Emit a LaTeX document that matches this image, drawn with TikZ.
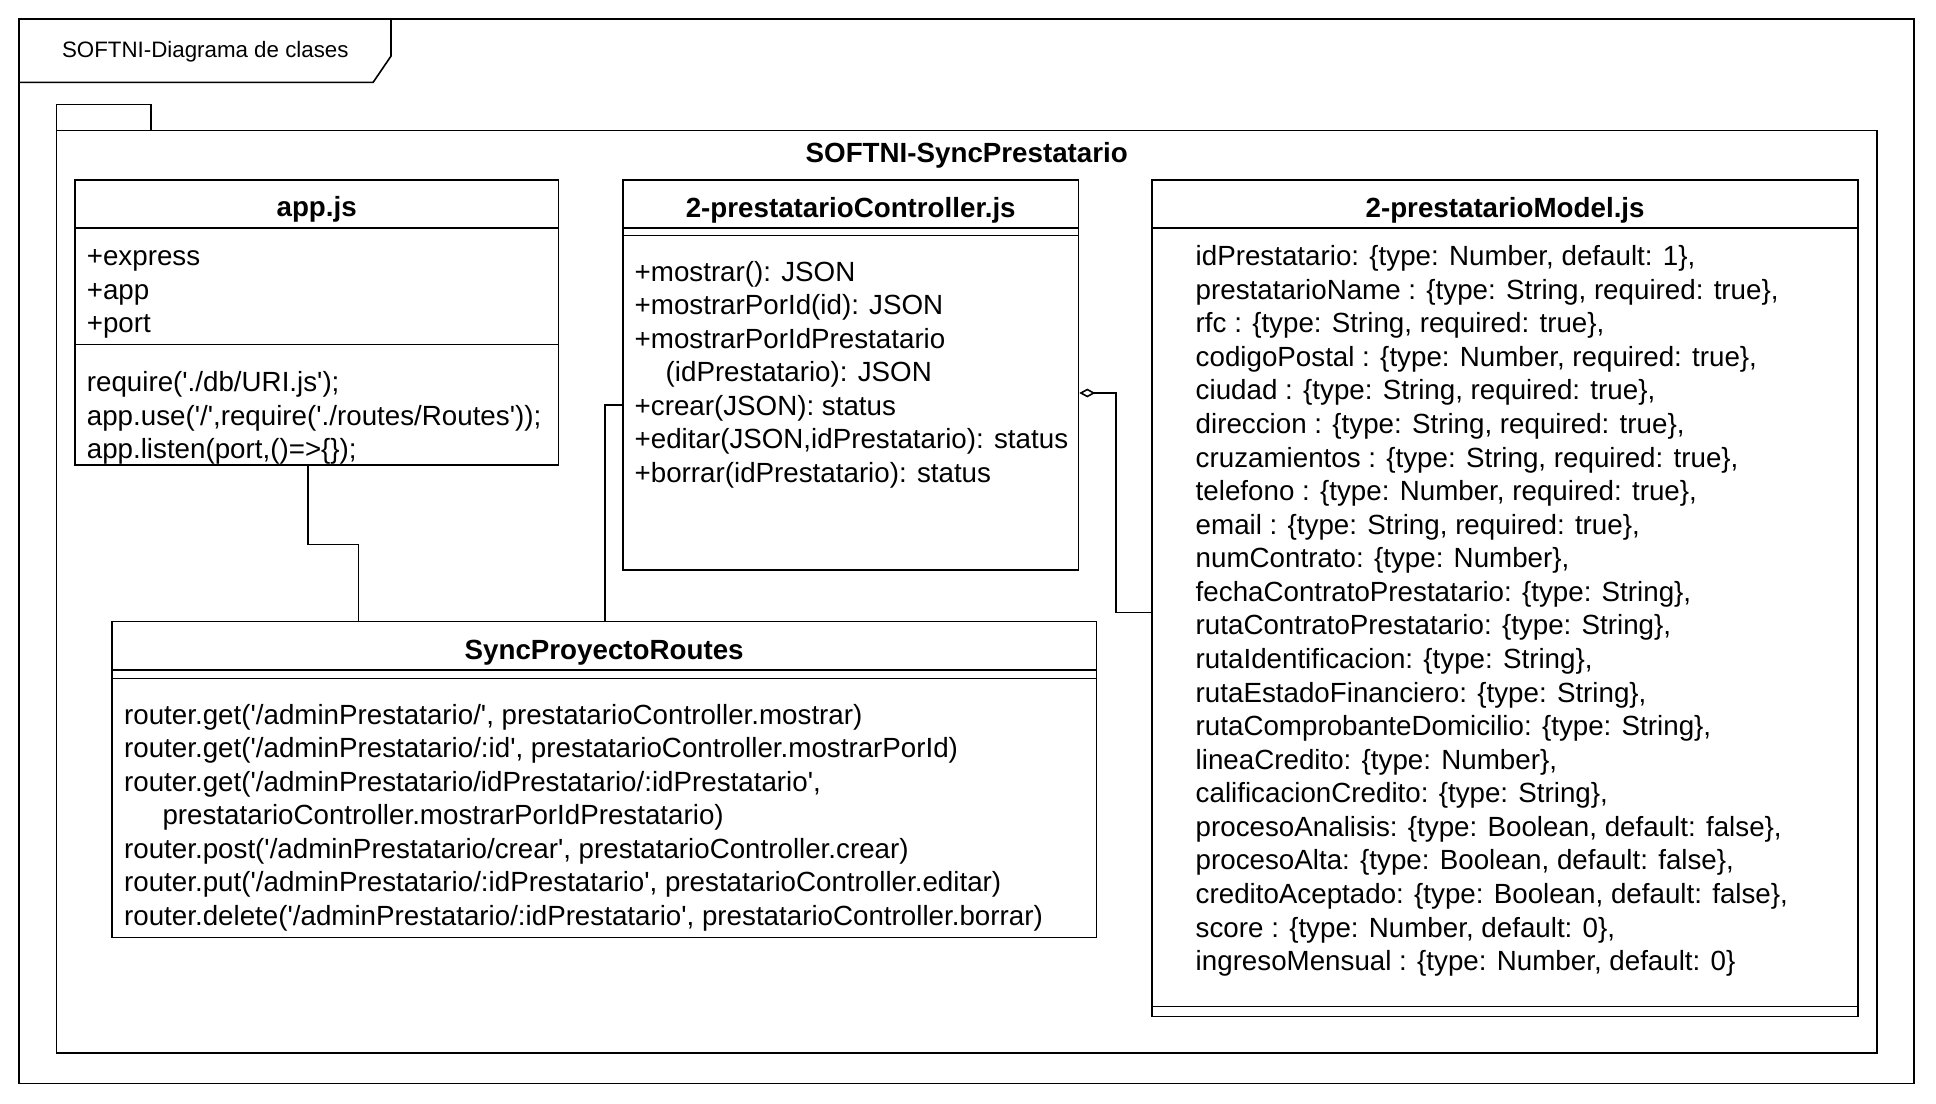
\documentclass[tikz,border=0pt]{standalone}
\usepackage{fontspec}
\newfontfamily\cfont{Liberation Sans}
\usetikzlibrary{arrows.meta,fit}
\begin{document}
\begin{tikzpicture}[x=0.61735pt,y=-0.61735pt,line width=0.8pt,
  box/.style={draw,inner sep=0pt,fit={#1}},
  txt/.style={anchor=base west,inner sep=0pt,font=\cfont\fontsize{13.87}{16.6}\selectfont},
  ttl/.style={anchor=base,inner sep=0pt,font=\cfont\bfseries\fontsize{13.87}{16.6}\selectfont},
  ftl/.style={anchor=base west,inner sep=0pt,font=\cfont\fontsize{11.16}{13.4}\selectfont},
  aggr/.style={{Diamond[open,length=8pt,width=4.4pt,line width=0.8pt]}-}]
\fill[white] (0,0) rectangle (1568,894);
\useasboundingbox (0,0) rectangle (1568,894);

% outer frame
\draw (15.5,15.4) rectangle (1550.2,877.4);
\draw (15.5,66.7) -- (302.2,66.7) -- (316.7,45.4) -- (316.7,15.4);
\node[ftl] (frametitle) at (49.6,46.4) {SOFTNI-Diagrama de clases};

% package
\draw (45.9,105.8) -- (45.9,84.8) -- (122.4,84.8) -- (122.4,105.8);
\draw (45.9,105.8) rectangle (1520,853);
\node[ttl] (pkgtitle) at (783,131.5) {SOFTNI-SyncPrestatario};

% app.js
\node[box={(60.8,145.8) (452.3,376.6)}] (app) {};
\draw (app.west |- 0,184.9) -- (app.east |- 0,184.9);
\draw (app.west |- 0,278.9) -- (app.east |- 0,278.9);
\node[ttl] (apptitle) at (256.5,175.5) {app.js};
\node[txt] (a1) at (69.7,215.2) {+express};
\node[txt] (a2) at (69.7,242.4) {+app};
\node[txt] (a3) at (69.7,269.6) {+port};
\node[txt] (a4) at (69.7,317.2) {require('./db/URI.js');};
\node[txt] (a5) at (69.7,344.4) {app.use('/',require('./routes/Routes'));};
\node[txt] (a6) at (69.7,371.6) {app.listen(port,()=>\{\});};

% controller
\node[box={(504.5,145.8) (873.5,461.6)}] (ctrl) {};
\draw (ctrl.west |- 0,184.9) -- (ctrl.east |- 0,184.9);
\draw (ctrl.west |- 0,190.9) -- (ctrl.east |- 0,190.9);
\node[ttl] (ctrltitle) at (689,176) {2-prestatarioController.js};
\node[txt] (c1) at (513.4,227.6) {+mostrar(): JSON};
\node[txt] (c2) at (513.4,254.8) {+mostrarPorId(id): JSON};
\node[txt] (c3) at (513.4,282.0) {+mostrarPorIdPrestatario};
\node[txt] (c4) at (538.5,309.2) {(idPrestatario): JSON};
\node[txt] (c5) at (513.4,336.4) {+crear(JSON): status};
\node[txt] (c6) at (513.4,363.6) {+editar(JSON,idPrestatario): status};
\node[txt] (c7) at (513.4,390.8) {+borrar(idPrestatario): status};

% model
\node[box={(933,145.8) (1505,823.4)}] (model) {};
\draw (model.west |- 0,184.9) -- (model.east |- 0,184.9);
\draw (model.west |- 0,815.3) -- (model.east |- 0,815.3);
\node[ttl] (modeltitle) at (1219,176) {2-prestatarioModel.js};
\foreach \t [count=\k from 0] in {
  {idPrestatario: \{type: Number, default: 1\},},
  {prestatarioName : \{type: String, required: true\},},
  {rfc : \{type: String, required: true\},},
  {codigoPostal : \{type: Number, required: true\},},
  {ciudad : \{type: String, required: true\},},
  {direccion : \{type: String, required: true\},},
  {cruzamientos : \{type: String, required: true\},},
  {telefono : \{type: Number, required: true\},},
  {email : \{type: String, required: true\},},
  {numContrato: \{type: Number\},},
  {fechaContratoPrestatario: \{type: String\},},
  {rutaContratoPrestatario: \{type: String\},},
  {rutaIdentificacion: \{type: String\},},
  {rutaEstadoFinanciero: \{type: String\},},
  {rutaComprobanteDomicilio: \{type: String\},},
  {lineaCredito: \{type: Number\},},
  {calificacionCredito: \{type: String\},},
  {procesoAnalisis: \{type: Boolean, default: false\},},
  {procesoAlta: \{type: Boolean, default: false\},},
  {creditoAceptado: \{type: Boolean, default: false\},},
  {score : \{type: Number, default: 0\},},
  {ingresoMensual : \{type: Number, default: 0\}}}
  \node[txt] (m\k) at (967.8,{215.2+27.19*\k}) {\t};

% routes
\node[box={(90.5,503.5) (888.2,759.4)}] (routes) {};
\draw (routes.west |- 0,542.6) -- (routes.east |- 0,542.6);
\draw (routes.west |- 0,549.4) -- (routes.east |- 0,549.4);
\node[ttl] (routestitle) at (489.3,534) {SyncProyectoRoutes};
\node[txt] (r1) at (99.9,586.7) {router.get('/adminPrestatario/', prestatarioController.mostrar)};
\node[txt] (r2) at (99.9,613.8) {router.get('/adminPrestatario/:id', prestatarioController.mostrarPorId)};
\node[txt] (r3) at (99.9,640.9) {router.get('/adminPrestatario/idPrestatario/:idPrestatario',};
\node[txt] (r4) at (131,668.0) {prestatarioController.mostrarPorIdPrestatario)};
\node[txt] (r5) at (99.9,695.0) {router.post('/adminPrestatario/crear', prestatarioController.crear)};
\node[txt] (r6) at (99.9,722.1) {router.put('/adminPrestatario/:idPrestatario', prestatarioController.editar)};
\node[txt] (r7) at (99.9,749.2) {router.delete('/adminPrestatario/:idPrestatario', prestatarioController.borrar)};

% connectors
\coordinate (k1) at (249.6,440.9);
\coordinate (k2) at (290.3,440.9);
\draw (app.south -| k1) -- (k1) -- (k2) -- (routes.north -| k2);
\coordinate (k3) at (490.2,328);
\draw (routes.north -| k3) -- (k3) -- (ctrl.west |- k3);
\coordinate (k4) at (903.9,318.3);
\coordinate (k5) at (903.9,496);
\draw[aggr] (ctrl.east |- k4) -- (k4) -- (k5) -- (model.west |- k5);
\end{tikzpicture}
\end{document}
